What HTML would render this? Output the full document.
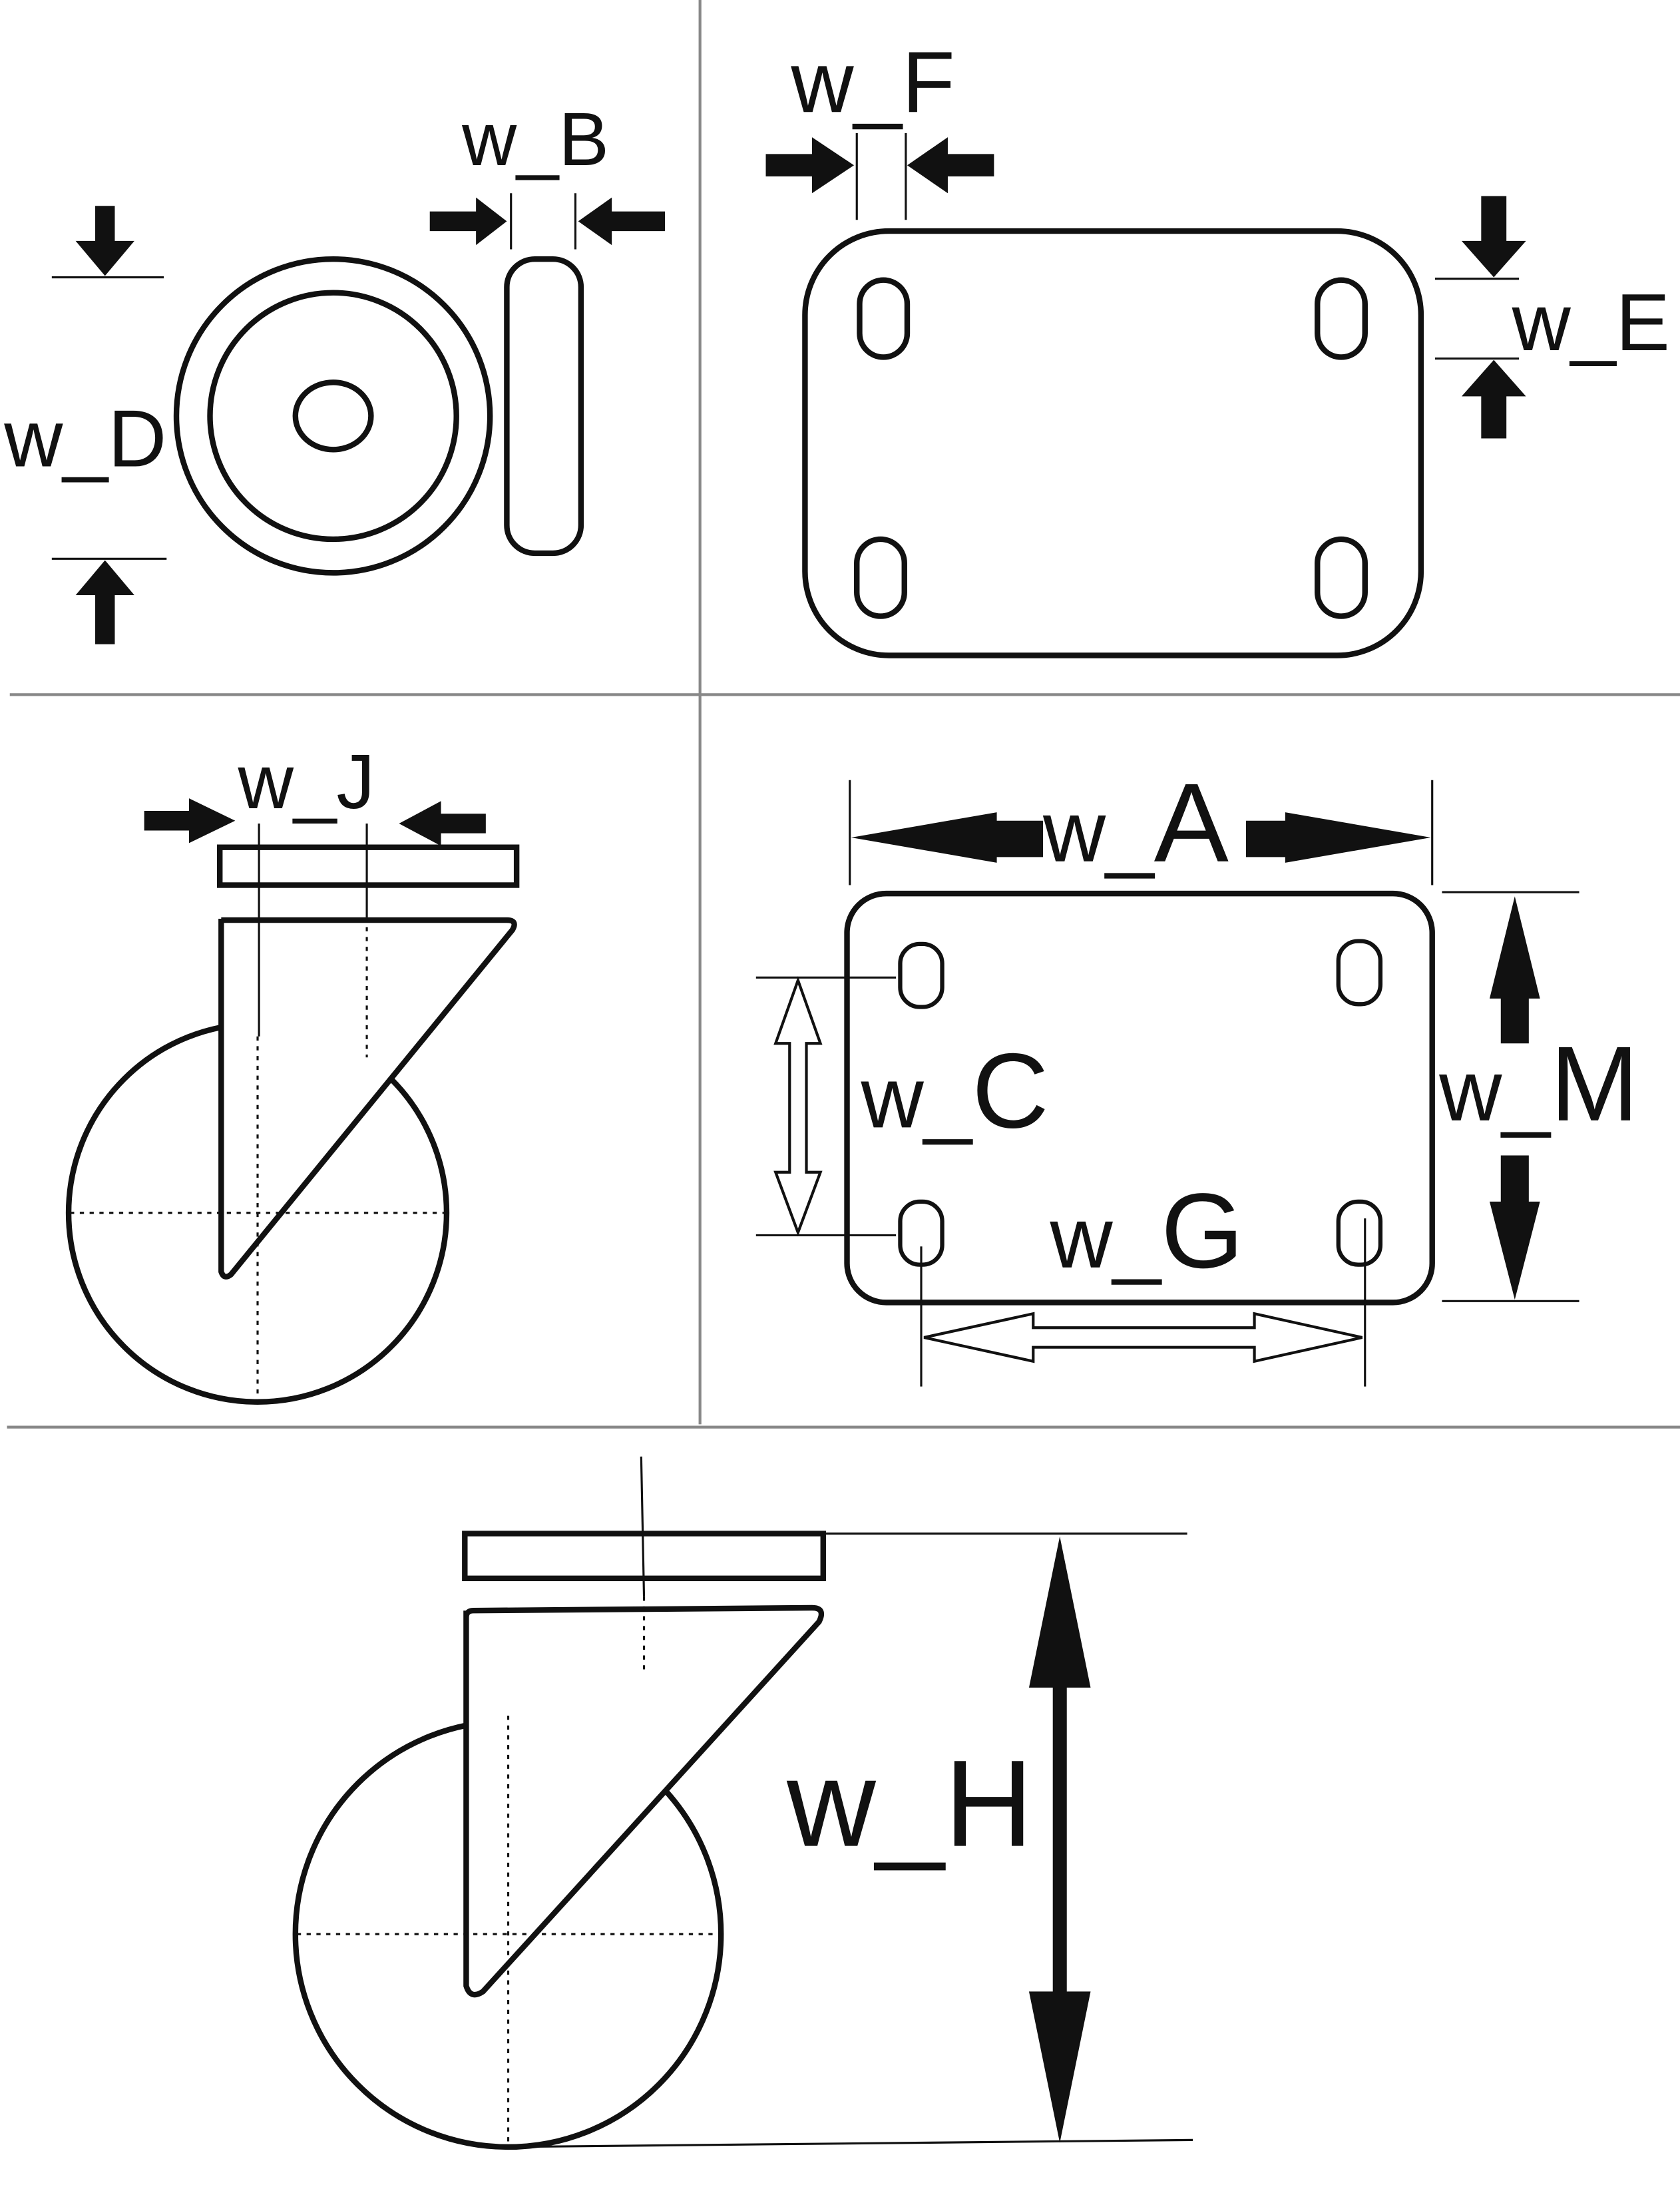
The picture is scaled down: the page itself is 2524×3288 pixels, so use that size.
<!DOCTYPE html>
<html><head><meta charset="utf-8"><style>
html,body{margin:0;padding:0;background:#fff;}
svg{display:block;}
</style></head><body>
<svg width="2524" height="3288" viewBox="0 0 1200 1563" preserveAspectRatio="none" xmlns="http://www.w3.org/2000/svg" font-family="Liberation Sans, sans-serif">
<rect width="1200" height="1563" fill="#fff"/>
<g stroke="#888" stroke-width="2">
<line x1="500" y1="0" x2="500" y2="1017"/>
<line x1="7" y1="496" x2="1200" y2="496"/>
<line x1="5" y1="1019" x2="1200" y2="1019"/>
</g>
<g fill="none" stroke="#111" stroke-width="4">
<!-- panel 1 -->
<circle cx="238" cy="297" r="112"/>
<circle cx="238" cy="297" r="88"/>
<ellipse cx="238" cy="297" rx="27" ry="24"/>
<rect x="362" y="185" width="53" height="210" rx="20"/>
<!-- panel 2 -->
<rect x="575" y="165" width="440" height="303" rx="60"/>
<rect x="614" y="200" width="34" height="55" rx="17"/>
<rect x="941" y="200" width="34" height="55" rx="17"/>
<rect x="612" y="385" width="34" height="55" rx="17"/>
<rect x="941" y="385" width="34" height="55" rx="17"/>
<!-- panel 4 -->
<rect x="605" y="638" width="418" height="292" rx="28"/>
<rect x="643" y="674" width="30" height="45" rx="14" stroke-width="3"/>
<rect x="956" y="672" width="30" height="45" rx="14" stroke-width="3"/>
<rect x="643" y="858" width="30" height="45" rx="14" stroke-width="3"/>
<rect x="956" y="858" width="30" height="45" rx="14" stroke-width="3"/>
<!-- panel 3 -->
<circle cx="184" cy="866" r="135"/>
<rect x="157" y="605" width="212" height="27"/>
<path d="M158,656 L158,908 Q160,914 165,910 L366,664 Q370,657 362,657 L158,657" fill="#fff"/>
<!-- panel 5 -->
<circle cx="363" cy="1381" r="152"/>
<rect x="332" y="1095" width="256" height="32"/>
<path d="M333,1150 L333,1418 Q336,1428 345,1422 L585,1158 Q590,1148 580,1148 L338,1150 Q333,1150 333,1155" fill="#fff"/>
</g>
<!-- thin lines -->
<g stroke="#111" stroke-width="1.5" fill="none">
<line x1="37" y1="198" x2="117" y2="198"/>
<line x1="37" y1="399" x2="119" y2="399"/>
<line x1="365" y1="138" x2="365" y2="178"/>
<line x1="411" y1="138" x2="411" y2="178"/>
<line x1="612" y1="95" x2="612" y2="157"/>
<line x1="647" y1="95" x2="647" y2="157"/>
<line x1="1025" y1="199" x2="1085" y2="199"/>
<line x1="1025" y1="256" x2="1085" y2="256"/>
<line x1="185" y1="588" x2="185" y2="740"/>
<line x1="262" y1="588" x2="262" y2="655"/>
<line x1="607" y1="557" x2="607" y2="632"/>
<line x1="1023" y1="557" x2="1023" y2="632"/>
<line x1="1030" y1="637" x2="1128" y2="637"/>
<line x1="1030" y1="929" x2="1128" y2="929"/>
<line x1="540" y1="698" x2="640" y2="698"/>
<line x1="540" y1="882" x2="640" y2="882"/>
<line x1="658" y1="890" x2="658" y2="990"/>
<line x1="975" y1="870" x2="975" y2="990"/>
<line x1="588" y1="1095" x2="848" y2="1095"/>
<line x1="458" y1="1040" x2="460" y2="1140"/>
<line x1="360" y1="1533" x2="852" y2="1528"/>
</g>
<g stroke="#111" stroke-width="1.5" stroke-dasharray="3,4" fill="none">
<line x1="50" y1="866" x2="318" y2="866"/>
<line x1="184" y1="740" x2="184" y2="1000"/>
<line x1="262" y1="655" x2="262" y2="755"/>
<line x1="212" y1="1381" x2="515" y2="1381"/>
<line x1="363" y1="1225" x2="363" y2="1530"/>
<line x1="460" y1="1140" x2="460" y2="1195"/>
</g>
<!-- block arrows -->
<g fill="#111">
<polygon points="68,147 82,147 82,172 96,172 75,197 54,172 68,172"/>
<polygon points="68,460 82,460 82,425 96,425 75,400 54,425 68,425"/>
<polygon points="307,151 340,151 340,141 362,158 340,175 340,165 307,165"/>
<polygon points="475,151 437,151 437,141 413,158 437,175 437,165 475,165"/>
<polygon points="547,110 580,110 580,98 610,118 580,138 580,126 547,126"/>
<polygon points="710,110 677,110 677,98 648,118 677,138 677,126 710,126"/>
<polygon points="1058,140 1076,140 1076,172 1090,172 1067,198 1044,172 1058,172"/>
<polygon points="1058,313 1076,313 1076,283 1090,283 1067,257 1044,283 1058,283"/>
<polygon points="103,579 135,579 135,570 168,586 135,602 135,593 103,593"/>
<polygon points="347,581 315,581 315,572 285,588 315,604 315,595 347,595"/>
<polygon points="608,598 712,580 712,586 745,586 745,612 712,612 712,616"/>
<polygon points="1022,598 918,580 918,586 890,586 890,612 918,612 918,616"/>
<polygon points="1082,640 1100,713 1092,713 1092,745 1072,745 1072,713 1064,713"/>
<polygon points="1082,928 1100,858 1092,858 1092,825 1072,825 1072,858 1064,858"/>
<polygon points="757,1097 779,1205 762,1205 762,1422 779,1422 757,1530 735,1422 752,1422 752,1205 735,1205"/>
</g>
<!-- hollow arrows -->
<g fill="#fff" stroke="#111" stroke-width="2">
<polygon points="570,700 586,745 576,745 576,837 586,837 570,880 554,837 564,837 564,745 554,745"/>
<polygon points="660,955 738,938 738,948 896,948 896,938 973,955 896,972 896,962 738,962 738,972"/>
</g>
<!-- text -->
<g fill="#111">
<text x="3" y="333" font-size="58">w_D</text>
<text x="330" y="118" font-size="54">w_B</text>
<text x="565" y="80" font-size="62">w_F</text>
<text x="1080" y="250" font-size="58">w_E</text>
<text x="170" y="577" font-size="55">w_J</text>
<text x="745" y="615" font-size="62">w_<tspan font-size="80">A</tspan></text>
<text x="615" y="805" font-size="62">w_<tspan font-size="76">C</tspan></text>
<text x="1028" y="800" font-size="62">w_<tspan font-size="76">M</tspan></text>
<text x="750" y="905" font-size="62">w_<tspan font-size="76">G</tspan></text>
<text x="562" y="1318" font-size="88">w_H</text>
</g>
</svg>
</body></html>
